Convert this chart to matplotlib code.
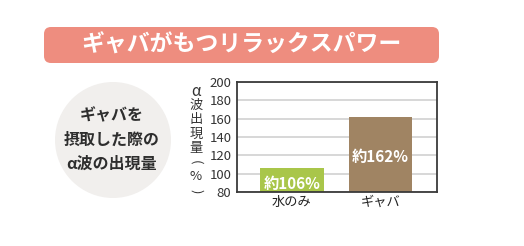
import matplotlib.pyplot as plt
from matplotlib.patches import FancyBboxPatch, Circle

plt.rcParams['font.family'] = ['Noto Sans CJK JP', 'DejaVu Sans']

# data
categories = ['水のみ', 'ギャバ']
values = [106, 162]
bar_labels = ['約106%', '約162%']
bar_colors = ['#a9c64a', '#a08463']
yticks = [80, 100, 120, 140, 160, 180, 200]
title = 'ギャバがもつリラックスパワー'
circle_lines = ['ギャバを', '摂取した際の', 'α波の出現量']
ylabel_chars = ['α', '波', '出', '現', '量', '(', '%', ')']

W, H = 524, 246
fig = plt.figure(figsize=(W / 100, H / 100), dpi=100)

# background layer in pixel coordinates
bg = fig.add_axes([0, 0, 1, 1])
bg.set_xlim(0, W)
bg.set_ylim(H, 0)
bg.axis('off')

banner = FancyBboxPatch((44, 27), 395, 36, boxstyle='round,pad=0,rounding_size=7',
                        facecolor='#ee8d7f', edgecolor='none')
bg.add_patch(banner)
bg.text(241, 45.5, title, color='white', fontsize=16.5, fontweight='bold',
        ha='center', va='center')

bg.add_patch(Circle((113, 140), 58, facecolor='#f1efed', edgecolor='none'))
for i, line in enumerate(circle_lines):
    bg.text(112, 115 + i * 24.5, line, color='#2e2e2e', fontsize=11.5,
            fontweight='bold', ha='center', va='center')

# vertical y-axis label, one character per row
for i, ch in enumerate(ylabel_chars):
    rot = -90 if ch in '()' else 0
    size = 11 if ch == 'α' else 9.5
    bg.text(196, 91 + i * 14.3, ch, color='#333333', fontsize=size,
            rotation=rot, ha='center', va='center')

# chart
ax = fig.add_axes([237 / W, (H - 192) / H, 200 / W, 110 / H])
x = range(len(categories))
ax.bar(x, [v - 80 for v in values], bottom=80, width=0.72, color=bar_colors, zorder=2)
ax.set_xlim(-0.62, 1.64)
ax.set_ylim(80, 200)
ax.set_yticks(yticks)
ax.set_yticklabels([str(t) for t in yticks], fontsize=9.5, color='#333333')
ax.set_xticks(list(x))
ax.set_xticklabels(categories, fontsize=9.5, color='#222222')
ax.tick_params(length=0, pad=3)
ax.tick_params(axis='y', pad=4)
ax.yaxis.grid(True, color='#d4d4d4', linewidth=1.3, zorder=0)
ax.set_axisbelow(True)
for s in ax.spines.values():
    s.set_color('#3a3a3a')
    s.set_linewidth(1.3)

for i, (v, lab) in enumerate(zip(values, bar_labels)):
    ax.text(i, (80 + v) / 2 - (4 if v < 120 else 3), lab, color='white',
            fontsize=11, fontweight='bold', ha='center', va='center', zorder=3)

fig.savefig('out.png', dpi=100)
